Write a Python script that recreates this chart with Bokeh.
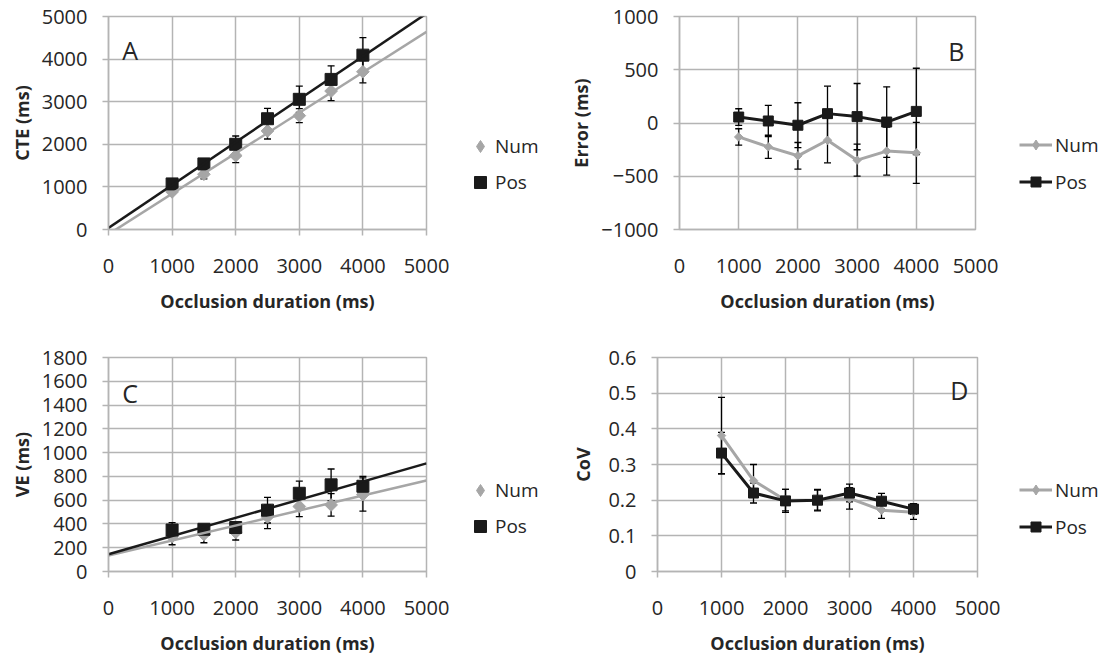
import math
import numpy as np
from bokeh.plotting import figure
from bokeh.models import (Range1d, FixedTicker, ColumnDataSource, Whisker, TeeHead,
                          Legend, LegendItem, Label)
from bokeh.layouts import column, row
from bokeh.embed import file_html
from bokeh.resources import INLINE

# ---------------- data ----------------
durations = [1000, 1500, 2000, 2500, 3000, 3500, 4000]
series_names = ["Num", "Pos"]

cte_num = [883, 1297, 1734, 2314, 2673, 3250, 3703]
cte_num_err = [40, 110, 165, 190, 165, 225, 260]
cte_pos = [1070, 1540, 2000, 2600, 3056, 3523, 4093]
cte_pos_err = [50, 60, 195, 245, 310, 320, 410]

err_num = [-131, -224, -308, -162, -349, -264, -280]
err_num_err = [77, 109, 125, 212, 150, 225, 286]
err_pos = [56, 19, -21, 88, 60, 9, 109]
err_pos_err = [78, 146, 211, 258, 311, 331, 405]

ve_num = [295, 312, 330, 460, 547, 560, 647]
ve_num_err = [70, 70, 65, 100, 85, 95, 140]
ve_pos = [349, 355, 370, 516, 658, 729, 717]
ve_pos_err = [62, 40, 40, 108, 102, 133, 83]

cov_num = [0.381, 0.255, 0.200, 0.200, 0.205, 0.172, 0.166]
cov_num_err = [0.107, 0.045, 0.030, 0.030, 0.030, 0.023, 0.020]
cov_pos = [0.332, 0.220, 0.198, 0.200, 0.220, 0.197, 0.175]
cov_pos_err = [0.058, 0.028, 0.032, 0.028, 0.025, 0.022, 0.015]

x_ticks = [0, 1000, 2000, 3000, 4000, 5000]
cte_ticks = [0, 1000, 2000, 3000, 4000, 5000]
err_ticks = [-1000, -500, 0, 500, 1000]
ve_ticks = [0, 200, 400, 600, 800, 1000, 1200, 1400, 1600, 1800]
cov_ticks = [0, 0.1, 0.2, 0.3, 0.4, 0.5, 0.6]

x_title = "Occlusion duration (ms)"

# ---------------- style ----------------
FONT = "Open Sans"
GRAY = "#a6a6a6"
BLACK = "#1a1a1a"
GRID = "#b4b4b4"
TXT = "#262626"
NAN = float("nan")


def make_fig(width, height, left, right, top, bottom, yr, yticks, ytitle, xtick_out=6,
             ytitle_standoff=5):
    p = figure(width=width, height=height, output_backend="svg", toolbar_location=None,
               x_range=Range1d(0, 5000), y_range=Range1d(yr[0], yr[1]),
               min_border_left=left, min_border_right=right,
               min_border_top=top, min_border_bottom=bottom)
    p.outline_line_color = GRID
    p.outline_line_width = 1.5
    p.background_fill_color = "white"
    p.border_fill_color = "white"
    p.xaxis.ticker = FixedTicker(ticks=x_ticks)
    p.yaxis.ticker = FixedTicker(ticks=yticks)
    for g in (p.xgrid, p.ygrid):
        g.grid_line_color = GRID
        g.grid_line_width = 1.5
    for ax in (p.xaxis, p.yaxis):
        ax.axis_line_color = GRID
        ax.axis_line_width = 1.5
        ax.major_tick_line_color = GRID
        ax.major_tick_line_width = 1.5
        ax.major_tick_in = 0
        ax.minor_tick_line_color = None
        ax.major_label_text_font = FONT
        ax.major_label_text_font_size = "20px"
        ax.major_label_text_color = TXT
        ax.axis_label_text_font = FONT
        ax.axis_label_text_font_size = "18px"
        ax.axis_label_text_font_style = "bold"
        ax.axis_label_text_color = TXT
    p.xaxis.major_tick_out = xtick_out
    p.yaxis.major_tick_out = 6
    p.xaxis.major_label_standoff = 23 + (6 - xtick_out)
    p.yaxis.major_label_standoff = 15
    p.xaxis.axis_label_standoff = 13
    p.yaxis.axis_label_standoff = ytitle_standoff
    p.xaxis.axis_label = x_title
    p.yaxis.axis_label = ytitle
    return p


def whiskers(p, vals, errs, head=7):
    src = ColumnDataSource(dict(x=durations,
                                upper=[v + e for v, e in zip(vals, errs)],
                                lower=[v - e for v, e in zip(vals, errs)]))
    w = Whisker(base="x", upper="upper", lower="lower", source=src,
                line_color="black", line_width=1.3,
                upper_head=TeeHead(size=head, line_color="black", line_width=1.3),
                lower_head=TeeHead(size=head, line_color="black", line_width=1.3))
    p.add_layout(w)


def letter(p, x, y, t):
    p.add_layout(Label(x=x, y=y, text=t, text_font=FONT, text_font_size="25px",
                       text_color=TXT, text_baseline="alphabetic"))


def trend(p, vals, color):
    k, b = np.polyfit(durations, vals, 1)
    xs = [0, 5000]
    p.line(xs, [b + k * xx for xx in xs], line_color=color, line_width=2.5)


def legend_fig(width, height, with_lines, loc):
    q = figure(width=width, height=height, output_backend="svg", toolbar_location=None,
               x_range=Range1d(0, 1), y_range=Range1d(0, 1),
               x_axis_location=None, y_axis_location=None,
               min_border=0, min_border_left=0, min_border_right=0,
               min_border_top=0, min_border_bottom=0)
    q.outline_line_color = None
    q.grid.visible = False
    num_m = q.scatter(x=[NAN], y=[NAN], marker="diamond", fill_color=GRAY, line_color=GRAY)
    pos_m = q.scatter(x=[NAN], y=[NAN], marker="square", fill_color=BLACK, line_color=BLACK)
    if with_lines:
        num_l = q.line(x=[NAN, NAN], y=[NAN, NAN], line_color=GRAY, line_width=3)
        pos_l = q.line(x=[NAN, NAN], y=[NAN, NAN], line_color=BLACK, line_width=3)
        items = [LegendItem(label=series_names[0], renderers=[num_l, num_m]),
                 LegendItem(label=series_names[1], renderers=[pos_l, pos_m])]
        gw, gh, sp, ls = 33, 25, 11, 3
    else:
        items = [LegendItem(label=series_names[0], renderers=[num_m]),
                 LegendItem(label=series_names[1], renderers=[pos_m])]
        gw, gh, sp, ls = 30, 30, 6, 0
    lg = Legend(items=items, location=loc, glyph_width=gw, glyph_height=gh,
                label_height=gh, spacing=sp, label_standoff=ls, padding=0, margin=0,
                border_line_color=None, background_fill_alpha=0,
                label_text_font=FONT, label_text_font_size="19px", label_text_color=TXT)
    q.add_layout(lg)
    return q


# ---------------- A: CTE ----------------
pA = make_fig(456, 338, 108, 30, 16, 108, (0, 5000), cte_ticks, "CTE (ms)")
whiskers(pA, cte_num, cte_num_err)
whiskers(pA, cte_pos, cte_pos_err)
pA.scatter(durations, cte_num, marker="square", angle=math.pi / 4, size=9,
           fill_color=GRAY, line_color=GRAY)
pA.scatter(durations, cte_pos, marker="square", size=12,
           fill_color=BLACK, line_color=BLACK)
trend(pA, cte_num, GRAY)
trend(pA, cte_pos, BLACK)
letter(pA, 215, 4217, "A")
legA = legend_fig(92, 338, False, (9, 32))

# ---------------- B: Error ----------------
pB = make_fig(457, 338, 131, 30, 16, 109, (-1000, 1000), err_ticks, "Error (ms)", xtick_out=0)
whiskers(pB, err_num, err_num_err)
whiskers(pB, err_pos, err_pos_err)
pB.line(durations, err_num, line_color=GRAY, line_width=3)
pB.scatter(durations, err_num, marker="square", angle=math.pi / 4, size=6,
           fill_color=GRAY, line_color=GRAY)
pB.line(durations, err_pos, line_color=BLACK, line_width=3)
pB.scatter(durations, err_pos, marker="square", size=10,
           fill_color=BLACK, line_color=BLACK)
letter(pB, 4540, 680, "B")
legB = legend_fig(97, 338, True, (14, 34.5))

# ---------------- C: VE ----------------
pC = make_fig(456, 319, 108, 30, 19, 86, (0, 1800), ve_ticks, "VE (ms)")
whiskers(pC, ve_num, ve_num_err)
whiskers(pC, ve_pos, ve_pos_err)
pC.scatter(durations, ve_num, marker="square", angle=math.pi / 4, size=9,
           fill_color=GRAY, line_color=GRAY)
pC.scatter(durations, ve_pos, marker="square", size=12,
           fill_color=BLACK, line_color=BLACK)
trend(pC, ve_num, GRAY)
trend(pC, ve_pos, BLACK)
letter(pC, 215, 1502, "C")
legC = legend_fig(92, 319, False, (9, 30))

# ---------------- D: CoV ----------------
pD = make_fig(459, 319, 109, 30, 19, 86, (0, 0.6), cov_ticks, "CoV", ytitle_standoff=10)
pD.yaxis.major_label_overrides = {0: "0"}
whiskers(pD, cov_num, cov_num_err)
whiskers(pD, cov_pos, cov_pos_err)
pD.line(durations, cov_num, line_color=GRAY, line_width=3)
pD.scatter(durations, cov_num, marker="square", angle=math.pi / 4, size=6,
           fill_color=GRAY, line_color=GRAY)
pD.line(durations, cov_pos, line_color=BLACK, line_width=3)
pD.scatter(durations, cov_pos, marker="square", size=10,
           fill_color=BLACK, line_color=BLACK)
letter(pD, 4575, 0.509, "D")
legD = legend_fig(95, 319, True, (12, 31.5))

layout = column(row(pA, legA, pB, legB), row(pC, legC, pD, legD))
open("out.html", "w").write(file_html(layout, INLINE))
